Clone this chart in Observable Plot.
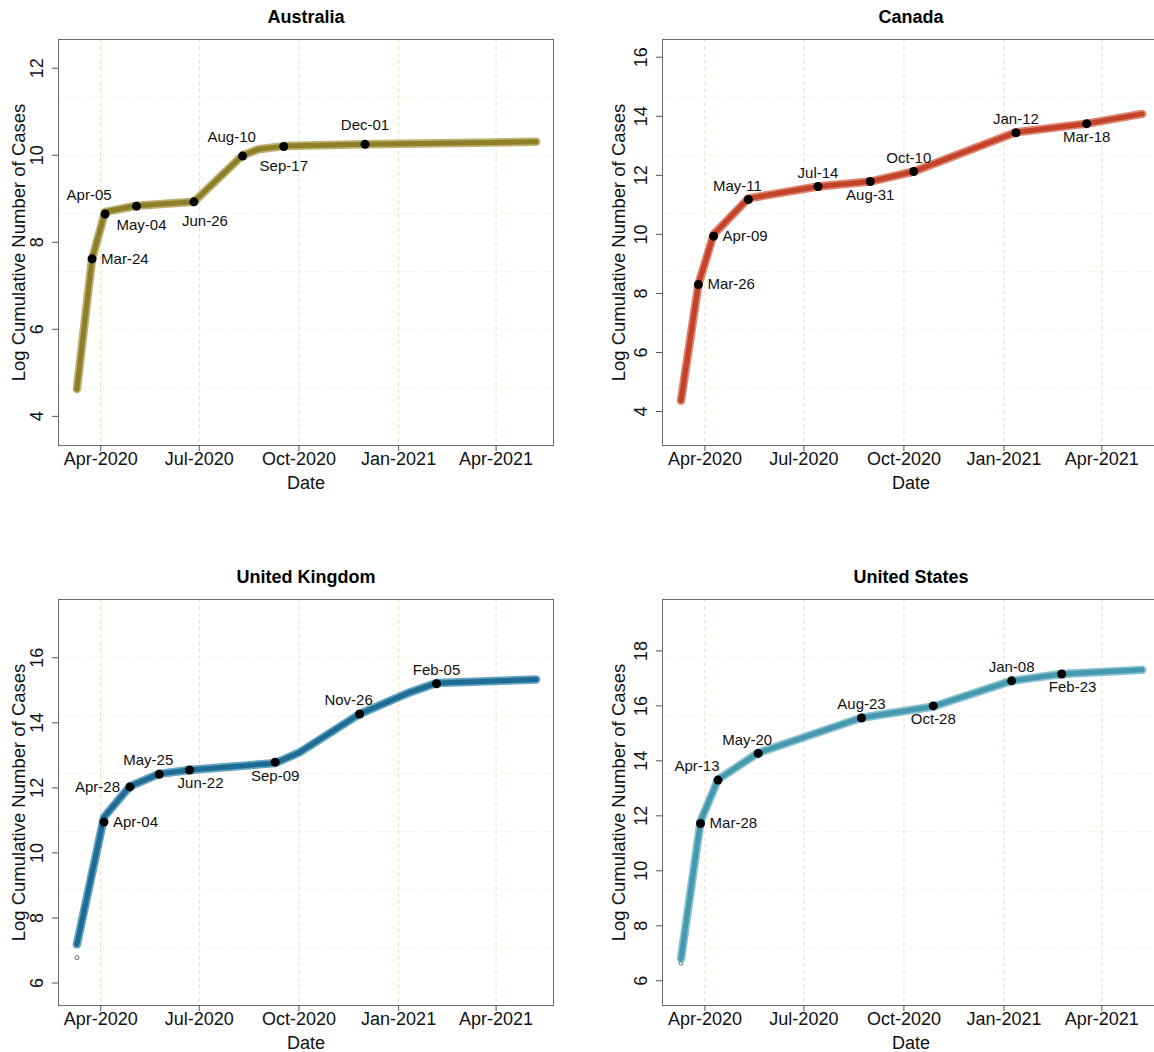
<!DOCTYPE html>
<html>
<head>
<meta charset="utf-8">
<script src="https://cdn.jsdelivr.net/npm/d3@7"></script>
<script src="https://cdn.jsdelivr.net/npm/@observablehq/plot@0.6"></script>
<style>
  html, body { margin: 0; padding: 0; background: #fff; }
  body { width: 1154px; height: 1052px; overflow: hidden; position: relative; font-family: "Liberation Sans", Arial, sans-serif; }
  .panel { position: absolute; }
  .title { position: absolute; font-weight: bold; font-size: 18px; line-height: 18px; text-align: center; width: 400px; color: #000; }
</style>
</head>
<body>
<script>
// ---------------- data ----------------
const xTickDates = ["2020-04-01", "2020-07-01", "2020-10-01", "2021-01-01", "2021-04-01"];
const xDomainDates = ["2020-02-22", "2021-05-24"];

// Australia
const auLineDates  = ["2020-03-10", "2020-03-24", "2020-04-05", "2020-05-04", "2020-06-26", "2020-08-10", "2020-08-25", "2020-09-17", "2020-12-01", "2021-05-08"];
const auLineValues = [4.63, 7.62, 8.70, 8.84, 8.93, 10.00, 10.14, 10.21, 10.25, 10.31];
const auPointDates  = ["2020-03-24", "2020-04-05", "2020-05-04", "2020-06-26", "2020-08-10", "2020-09-17", "2020-12-01"];
const auPointValues = [7.62, 8.65, 8.83, 8.93, 9.98, 10.20, 10.25];
const auFirstObs = 4.61;
const auYTicks = [4, 6, 8, 10, 12];

// Canada
const caLineDates  = ["2020-03-10", "2020-03-26", "2020-04-09", "2020-05-11", "2020-07-14", "2020-08-31", "2020-10-10", "2021-01-12", "2021-03-18", "2021-05-08"];
const caLineValues = [4.37, 8.30, 10.00, 11.22, 11.62, 11.79, 12.13, 13.46, 13.75, 14.08];
const caPointDates  = ["2020-03-26", "2020-04-09", "2020-05-11", "2020-07-14", "2020-08-31", "2020-10-10", "2021-01-12", "2021-03-18"];
const caPointValues = [8.30, 9.94, 11.18, 11.62, 11.79, 12.13, 13.44, 13.75];
const caFirstObs = 4.38;
const caYTicks = [4, 6, 8, 10, 12, 14, 16];

// United Kingdom
const ukLineDates  = ["2020-03-10", "2020-04-04", "2020-04-28", "2020-05-25", "2020-06-22", "2020-09-09", "2020-10-01", "2020-11-26", "2021-01-10", "2021-02-05", "2021-05-08"];
const ukLineValues = [7.19, 11.10, 12.05, 12.43, 12.55, 12.76, 13.08, 14.27, 14.92, 15.22, 15.33];
const ukPointDates  = ["2020-04-04", "2020-04-28", "2020-05-25", "2020-06-22", "2020-09-09", "2020-11-26", "2021-02-05"];
const ukPointValues = [10.95, 12.03, 12.42, 12.55, 12.79, 14.27, 15.20];
const ukFirstObs = 6.78;
const ukYTicks = [6, 8, 10, 12, 14, 16];

// United States
const usLineDates  = ["2020-03-10", "2020-03-28", "2020-04-13", "2020-05-20", "2020-08-23", "2020-10-28", "2021-01-08", "2021-02-23", "2021-05-08"];
const usLineValues = [6.80, 11.80, 13.32, 14.29, 15.57, 15.98, 16.91, 17.16, 17.31];
const usPointDates  = ["2020-03-28", "2020-04-13", "2020-05-20", "2020-08-23", "2020-10-28", "2021-01-08", "2021-02-23"];
const usPointValues = [11.72, 13.30, 14.27, 15.56, 16.00, 16.91, 17.16];
const usFirstObs = 6.64;
const usYTicks = [6, 8, 10, 12, 14, 16, 18];

// ---------------- label placement (layout, not data) ----------------
const auLabelSide  = ["right", "above", "below", "below", "above", "below", "above"];
const auLabelNudge = [0, -16, 5, 11, -11, 0, 0];
const caLabelSide  = ["right", "right", "above", "above", "below", "above", "above", "below"];
const caLabelNudge = [0, 0, -11, 0, 0, -5, 0, 0];
const ukLabelSide  = ["right", "left", "above", "below", "below", "above", "above"];
const ukLabelNudge = [0, 0, -11, 11, 0, -11, 0];
const usLabelSide  = ["right", "above", "above", "above", "below", "above", "below"];
const usLabelNudge = [0, -21, -11, 0, 0, 0, 11];

// ---------------- drawing ----------------
const parse = s => new Date(s + "T00:00:00Z");
const fmtLabel = d3.utcFormat("%b-%d");
const fmtTick = d3.utcFormat("%b-%Y");
const xTicks = xTickDates.map(parse);
const xDomain = xDomainDates.map(parse);

function drawPanel(cfg) {
  const line = cfg.lineDates.map((d, i) => ({date: parse(d), v: cfg.lineValues[i]}));
  const pts = cfg.pointDates.map((d, i) => ({date: parse(d), v: cfg.pointValues[i], side: cfg.side[i], nudge: cfg.nudge[i]}));
  const first = [{date: parse(cfg.lineDates[0]), v: cfg.firstObs}];
  const [y0, y1] = cfg.yDomain;
  const hGrid = d3.range(1, 7).map(k => y0 + k * (y1 - y0) / 7);

  const labelMarks = pts.map(p => {
    let y = p.v, dx = p.nudge, anchor = "middle";
    if (p.side === "right") { anchor = "start"; dx = 9; }
    else if (p.side === "left") { anchor = "end"; dx = -10; }
    else if (p.side === "above") { y = p.v + cfg.gap; }
    else if (p.side === "below") { y = p.v - cfg.gap; }
    return Plot.text([p], {x: "date", y: () => y, text: d => fmtLabel(d.date), dx, textAnchor: anchor, lineAnchor: "middle", fontSize: 15, fill: "#111"});
  });

  const chart = Plot.plot({
    width: cfg.width,
    height: 470,
    marginTop: 9,
    marginBottom: 55,
    marginLeft: cfg.marginLeft,
    marginRight: cfg.marginRight,
    style: {fontFamily: "'Liberation Sans', Arial, sans-serif", fontSize: "18px", background: "white", maxWidth: "none", color: "#111"},
    x: {type: "utc", domain: xDomain},
    y: {domain: cfg.yDomain},
    marks: [
      Plot.gridX({ticks: xTicks, stroke: "#ecdfb6", strokeOpacity: 1, strokeDasharray: "4,3", strokeWidth: 1}),
      Plot.gridY({ticks: hGrid, stroke: "#f0e9d4", strokeOpacity: 1, strokeDasharray: "1,2", strokeWidth: 1}),
      Plot.frame({stroke: "#6b6b6b", strokeWidth: 1}),
      Plot.axisX({ticks: xTicks, tickFormat: fmtTick, tickSize: 6, tickPadding: 1, fontSize: 18, label: null, stroke: "#555"}),
      Plot.axisY({ticks: cfg.yTicks, tickFormat: d => String(d), tickRotate: -90, tickSize: 6, tickPadding: 10, fontSize: 18, label: null, stroke: "#555"}),
      Plot.text(["Date"], {frameAnchor: "bottom", dy: 43, lineAnchor: "bottom", fontSize: 18}),
      Plot.text(["Log Cumulative Number of Cases"], {frameAnchor: "left", rotate: -90, dx: cfg.titleDx, lineAnchor: "bottom", textAnchor: "middle", fontSize: 18.5}),
      Plot.dot(first, {x: "date", y: "v", r: 2, stroke: "#444", strokeWidth: 0.8, fill: "none"}),
      Plot.line(line, {x: "date", y: "v", stroke: cfg.outer, strokeWidth: 8.5, strokeOpacity: 0.75, strokeLinejoin: "round", strokeLinecap: "round"}),
      Plot.line(line, {x: "date", y: "v", stroke: cfg.inner, strokeWidth: 5, strokeOpacity: 0.9, strokeLinejoin: "round", strokeLinecap: "round"}),
      Plot.dot(pts, {x: "date", y: "v", r: 4.5, fill: "black", stroke: "none"}),
      ...labelMarks
    ]
  });

  const wrap = document.createElement("div");
  wrap.className = "panel";
  wrap.style.left = cfg.left + "px";
  wrap.style.top = cfg.top + "px";
  wrap.style.width = cfg.width + "px";
  wrap.appendChild(chart);
  document.body.appendChild(wrap);

  const t = document.createElement("div");
  t.className = "title";
  t.textContent = cfg.name;
  t.style.left = (cfg.titleCenter - 200) + "px";
  t.style.top = (cfg.top - 22) + "px";
  document.body.appendChild(t);
}

const leftCol = {left: 0, marginLeft: 58, marginRight: 10, width: 563, titleCenter: 306, titleDx: -34};
const rightCol = {left: 600, marginLeft: 62, marginRight: 5, width: 564, titleCenter: 911, titleDx: -38};

drawPanel({...leftCol, top: 30, name: "Australia", lineDates: auLineDates, lineValues: auLineValues, pointDates: auPointDates, pointValues: auPointValues, firstObs: auFirstObs, yTicks: auYTicks, yDomain: [3.33, 12.66], side: auLabelSide, nudge: auLabelNudge, gap: 0.44, outer: "#a5973f", inner: "#877a22"});
drawPanel({...rightCol, top: 30, name: "Canada", lineDates: caLineDates, lineValues: caLineValues, pointDates: caPointDates, pointValues: caPointValues, firstObs: caFirstObs, yTicks: caYTicks, yDomain: [2.85, 16.60], side: caLabelSide, nudge: caLabelNudge, gap: 0.45, outer: "#d65a3f", inner: "#bf3c22"});
drawPanel({...leftCol, top: 590, name: "United Kingdom", lineDates: ukLineDates, lineValues: ukLineValues, pointDates: ukPointDates, pointValues: ukPointValues, firstObs: ukFirstObs, yTicks: ukYTicks, yDomain: [5.31, 17.79], side: ukLabelSide, nudge: ukLabelNudge, gap: 0.42, outer: "#2f86ad", inner: "#16668f"});
drawPanel({...rightCol, top: 590, name: "United States", lineDates: usLineDates, lineValues: usLineValues, pointDates: usPointDates, pointValues: usPointValues, firstObs: usFirstObs, yTicks: usYTicks, yDomain: [5.10, 19.87], side: usLabelSide, nudge: usLabelNudge, gap: 0.49, outer: "#5eaec2", inner: "#3e94aa"});
</script>
</body>
</html>
